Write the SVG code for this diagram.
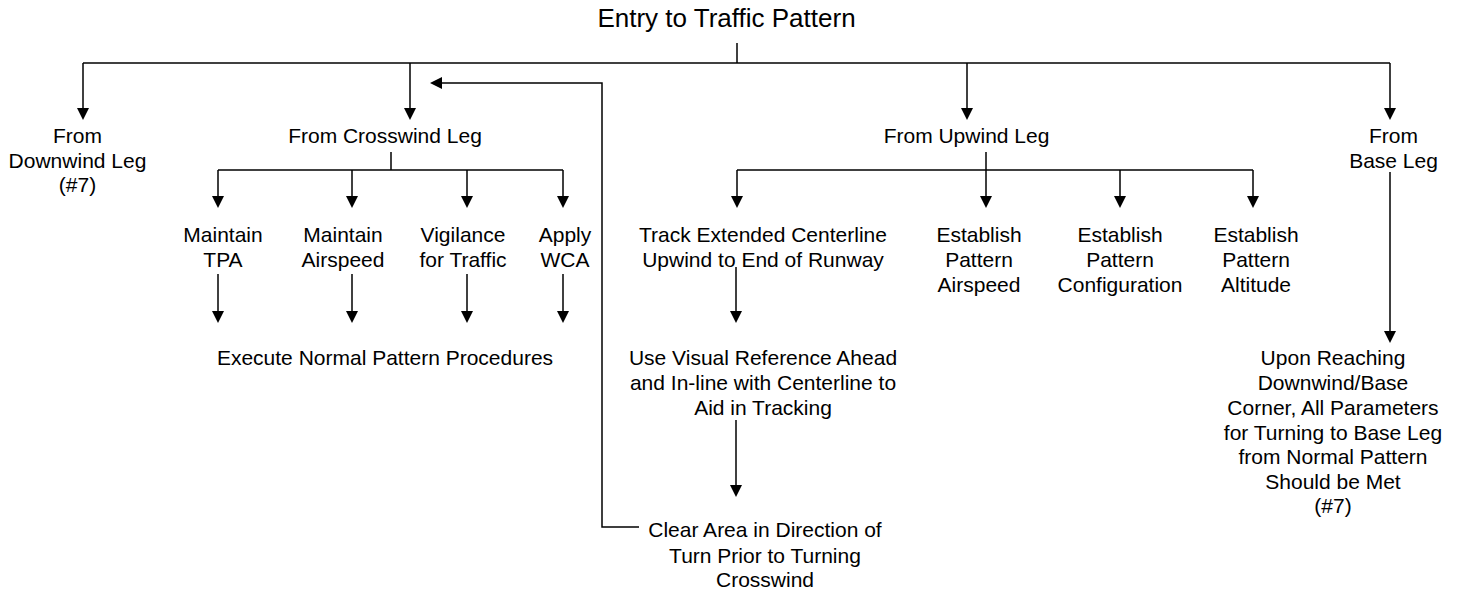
<svg xmlns="http://www.w3.org/2000/svg" width="1466" height="595" viewBox="0 0 1466 595">
<style>
text{font-family:"Liberation Sans",Arial,sans-serif;font-size:21px;fill:#000;text-anchor:middle}
.title{font-size:26px}
.c path{fill:none;stroke:#000;stroke-width:1.5}
</style>
<defs>
<marker id="ah" markerUnits="userSpaceOnUse" markerWidth="12" markerHeight="12" refX="10" refY="6" orient="auto" viewBox="0 0 12 12">
<path d="M0,0 L12,6 L0,12 z" fill="#000"/>
</marker>
</defs>
<rect width="1466" height="595" fill="#fff"/>
<g id="connectors" class="c">
<path d="M737,43 V63"/>
<path d="M83,63 H1390"/>
<path d="M83,63 V118" marker-end="url(#ah)"/>
<path d="M410,63 V118" marker-end="url(#ah)"/>
<path d="M967,63 V118" marker-end="url(#ah)"/>
<path d="M1390,63 V118" marker-end="url(#ah)"/>
<path d="M391,152 V170"/>
<path d="M218,170 H563"/>
<path d="M218,170 V206" marker-end="url(#ah)"/>
<path d="M352,170 V206" marker-end="url(#ah)"/>
<path d="M467,170 V206" marker-end="url(#ah)"/>
<path d="M563,170 V206" marker-end="url(#ah)"/>
<path d="M218,274 V321" marker-end="url(#ah)"/>
<path d="M352,274 V321" marker-end="url(#ah)"/>
<path d="M467,274 V321" marker-end="url(#ah)"/>
<path d="M563,274 V321" marker-end="url(#ah)"/>
<path d="M986,152 V170"/>
<path d="M737,170 H1253"/>
<path d="M737,170 V206" marker-end="url(#ah)"/>
<path d="M986,170 V206" marker-end="url(#ah)"/>
<path d="M1120,170 V206" marker-end="url(#ah)"/>
<path d="M1253,170 V206" marker-end="url(#ah)"/>
<path d="M736,267 V321" marker-end="url(#ah)"/>
<path d="M736,420 V495" marker-end="url(#ah)"/>
<path d="M639,527 H602 V83 H432" marker-end="url(#ah)"/>
<path d="M1390,172 V341" marker-end="url(#ah)"/>
</g>
<g id="entry"><text class="title" x="726.5" y="27">Entry to Traffic Pattern</text></g>
<g id="from-downwind"><text x="77.5" y="143"><tspan x="77.5">From</tspan><tspan x="77.5" y="167.5">Downwind Leg</tspan><tspan x="77.5" y="192">(#7)</tspan></text></g>
<g id="from-crosswind"><text x="385" y="143">From Crosswind Leg</text></g>
<g id="maintain-tpa"><text x="223" y="241.5"><tspan x="223">Maintain</tspan><tspan x="223" y="266.5">TPA</tspan></text></g>
<g id="maintain-airspeed"><text x="343" y="241.5"><tspan x="343">Maintain</tspan><tspan x="343" y="266.5">Airspeed</tspan></text></g>
<g id="vigilance"><text x="463" y="241.5"><tspan x="463">Vigilance</tspan><tspan x="463" y="266.5">for Traffic</tspan></text></g>
<g id="apply-wca"><text x="565" y="241.5"><tspan x="565">Apply</tspan><tspan x="565" y="266.5">WCA</tspan></text></g>
<g id="execute"><text x="385" y="365">Execute Normal Pattern Procedures</text></g>
<g id="from-upwind"><text x="966.5" y="143">From Upwind Leg</text></g>
<g id="track"><text x="763" y="241.5"><tspan x="763">Track Extended Centerline</tspan><tspan x="763" y="266.5">Upwind to End of Runway</tspan></text></g>
<g id="use-visual"><text x="763" y="365"><tspan x="763">Use Visual Reference Ahead</tspan><tspan x="763" y="390">and In-line with Centerline to</tspan><tspan x="763" y="415">Aid in Tracking</tspan></text></g>
<g id="clear-area"><text x="765" y="536.5"><tspan x="765">Clear Area in Direction of</tspan><tspan x="765" y="563">Turn Prior to Turning</tspan><tspan x="765" y="587">Crosswind</tspan></text></g>
<g id="est-airspeed"><text x="979" y="241.5"><tspan x="979">Establish</tspan><tspan x="979" y="266.5">Pattern</tspan><tspan x="979" y="291.5">Airspeed</tspan></text></g>
<g id="est-config"><text x="1120" y="241.5"><tspan x="1120">Establish</tspan><tspan x="1120" y="266.5">Pattern</tspan><tspan x="1120" y="291.5">Configuration</tspan></text></g>
<g id="est-altitude"><text x="1256" y="241.5"><tspan x="1256">Establish</tspan><tspan x="1256" y="266.5">Pattern</tspan><tspan x="1256" y="291.5">Altitude</tspan></text></g>
<g id="from-base"><text x="1393.5" y="143"><tspan x="1393.5">From</tspan><tspan x="1393.5" y="167.5">Base Leg</tspan></text></g>
<g id="upon-reaching"><text x="1333" y="365"><tspan x="1333">Upon Reaching</tspan><tspan x="1333" y="390">Downwind/Base</tspan><tspan x="1333" y="415">Corner, All Parameters</tspan><tspan x="1333" y="439.5">for Turning to Base Leg</tspan><tspan x="1333" y="464">from Normal Pattern</tspan><tspan x="1333" y="488.5">Should be Met</tspan><tspan x="1333" y="513">(#7)</tspan></text></g>
</svg>
